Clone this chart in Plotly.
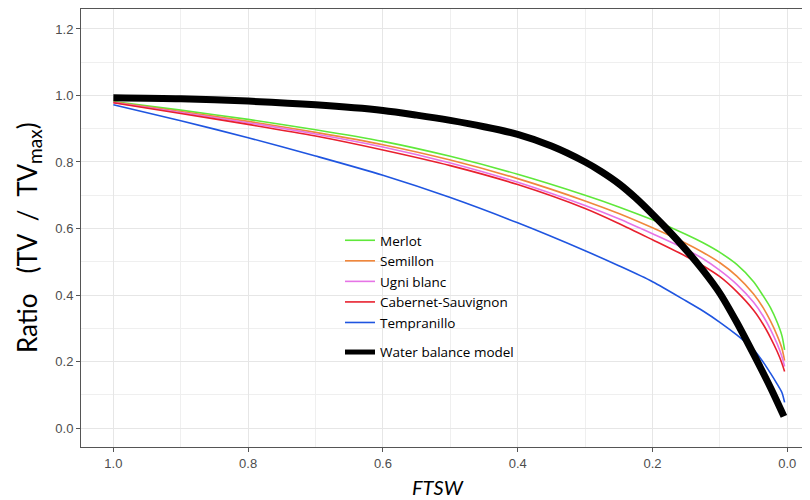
import plotly.graph_objects as go

ftsw = [1.0, 0.9, 0.8, 0.7, 0.6, 0.5, 0.4, 0.3, 0.25, 0.2, 0.15, 0.125, 0.1, 0.075, 0.05, 0.035, 0.025, 0.015, 0.008, 0.004]
merlot = [0.982, 0.956, 0.928, 0.897, 0.862, 0.817, 0.763, 0.700, 0.665, 0.626, 0.582, 0.557, 0.528, 0.492, 0.440, 0.395, 0.362, 0.318, 0.278, 0.235]
semillon = [0.980, 0.952, 0.922, 0.889, 0.852, 0.806, 0.750, 0.683, 0.645, 0.602, 0.555, 0.528, 0.497, 0.457, 0.403, 0.359, 0.322, 0.278, 0.240, 0.203]
ugni_blanc = [0.979, 0.949, 0.918, 0.884, 0.845, 0.797, 0.739, 0.669, 0.629, 0.584, 0.537, 0.509, 0.474, 0.432, 0.378, 0.334, 0.297, 0.253, 0.215, 0.185]
cabernet = [0.978, 0.946, 0.913, 0.878, 0.836, 0.789, 0.732, 0.660, 0.615, 0.566, 0.516, 0.488, 0.455, 0.410, 0.354, 0.309, 0.272, 0.230, 0.195, 0.170]
tempranillo = [0.972, 0.924, 0.873, 0.818, 0.760, 0.693, 0.617, 0.533, 0.488, 0.440, 0.382, 0.352, 0.318, 0.280, 0.236, 0.196, 0.165, 0.132, 0.107, 0.077]

wb_ftsw = [1.0, 0.9, 0.8, 0.7, 0.6, 0.55, 0.5, 0.45, 0.4, 0.35, 0.3, 0.275, 0.25, 0.225, 0.2, 0.175, 0.15, 0.125, 0.1, 0.075, 0.05, 0.025, 0.005]
water_balance = [0.993, 0.99, 0.983, 0.972, 0.955, 0.941, 0.925, 0.906, 0.883, 0.848, 0.800, 0.770, 0.735, 0.692, 0.643, 0.591, 0.535, 0.474, 0.405, 0.318, 0.222, 0.122, 0.035]

x_ticks = [1.0, 0.8, 0.6, 0.4, 0.2, 0.0]
y_ticks = [0.0, 0.2, 0.4, 0.6, 0.8, 1.0, 1.2]

series = [
    ("Merlot", merlot, "#5fe83a"),
    ("Semillon", semillon, "#f0873c"),
    ("Ugni blanc", ugni_blanc, "#e674e6"),
    ("Cabernet-Sauvignon", cabernet, "#e8202e"),
    ("Tempranillo", tempranillo, "#1f55e0"),
]

# page body has an 8px margin: the figure is sized so that it fills the 810x500 window
W, H = 802, 492
L, T, B = 73, 1, 53
PW, PH = W - L, H - T - B


def px(xw):  # window x -> paper x
    return (xw - 8 - L) / PW


def py(yw):  # window y -> paper y
    return (H - B - (yw - 8)) / PH


fig = go.Figure()
for name, vals, col in series:
    fig.add_trace(go.Scatter(x=ftsw, y=vals, mode="lines", name=name,
                             line=dict(color=col, width=1.6, shape="spline", smoothing=0.8),
                             legendgroup="cult"))

fig.add_trace(go.Scatter(x=wb_ftsw, y=water_balance, mode="lines", name="Water balance model",
                         line=dict(color="black", width=7, shape="spline", smoothing=0.8),
                         showlegend=False))
fig.add_trace(go.Scatter(x=[None], y=[None], mode="lines", name="Water balance model",
                         line=dict(color="black", width=5), legendgroup="wb"))

axis_common = dict(
    showgrid=True, gridcolor="#e6e6e6", gridwidth=1.1,
    zeroline=False, showline=True, linecolor="#555555", linewidth=1,
    ticks="outside", ticklen=4, tickcolor="#555555",
    tickfont=dict(family="Liberation Sans, Arial, sans-serif", size=13, color="#4d4d4d"),
    minor=dict(showgrid=True, gridcolor="#efefef", gridwidth=0.8, dtick=0.1, ticks=""),
)

fig.update_xaxes(range=[1.048, -0.0337], tickvals=x_ticks, ticktext=[f"{v:.1f}" for v in x_ticks],
                 mirror=True, **axis_common)
fig.update_yaxes(range=[-0.057, 1.26], tickvals=y_ticks, ticktext=[f"{v:.1f}" for v in y_ticks],
                 **axis_common)

fig.add_annotation(text="Ratio&nbsp;&nbsp;&nbsp;(TV&nbsp;&nbsp;/&nbsp;&nbsp;TV<sub><span style='font-size:19px'>max</span></sub>)",
                   xref="paper", yref="paper",
                   x=px(29), y=py(238), textangle=-90, showarrow=False,
                   font=dict(family="Lato, Open Sans, sans-serif", size=26, color="black"),
                   xanchor="center", yanchor="middle")
fig.add_annotation(text="<i>FTSW</i>", xref="paper", yref="paper",
                   x=px(438), y=py(487), showarrow=False,
                   font=dict(family="Lato, Open Sans, sans-serif", size=20, color="black"),
                   xanchor="center", yanchor="middle")

fig.update_layout(
    width=W, height=H,
    margin=dict(l=L, r=0, t=T, b=B),
    plot_bgcolor="white", paper_bgcolor="white",
    legend=dict(x=px(340), y=py(225), xanchor="left", yanchor="top",
                bgcolor="rgba(0,0,0,0)", tracegroupgap=9, traceorder="grouped",
                font=dict(family="Open Sans, Lato, sans-serif", size=13.5, color="black")),
)

fig.write_html("out.html")
